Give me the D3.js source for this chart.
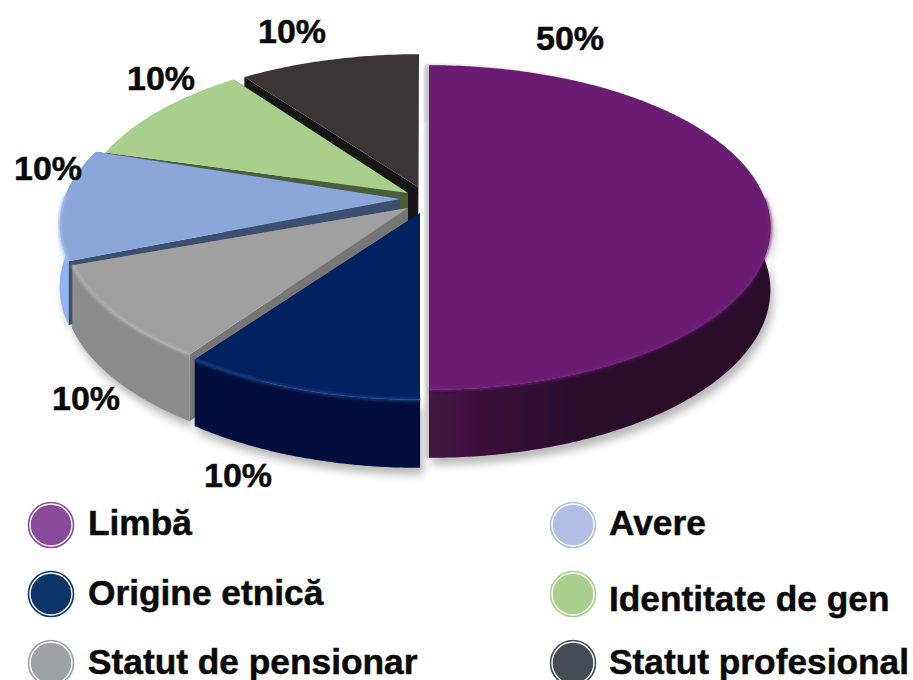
<!DOCTYPE html>
<html><head><meta charset="utf-8">
<script src="https://cdn.jsdelivr.net/npm/d3@7"></script>
<style>html,body{margin:0;padding:0;background:#fff}svg{display:block}text{font-family:"Liberation Sans",Arial,sans-serif;font-weight:bold;fill:#0a0a0a;stroke:#0a0a0a;stroke-width:.5px}</style>
</head><body><svg id="c" width="913" height="680"></svg>
<script>
const categories = ["Limbă","Origine etnică","Statut de pensionar","Avere","Identitate de gen","Statut profesional"];
const shares = [50,10,10,10,10,10];
const tickLabels = ["50%","10%","10%","10%","10%","10%"];

// styling, per slice
const topColors  = ["#6b1f72","#012060","#a0a0a0","#8ba7d9","#a8cf8c","#3b3535"];
const rimStart   = ["#431341","#001a50","#959595","#90b4f0","#a8cf8c","#3b3535"];
const rimEnd     = ["#2a0c2c","#000f3c","#8c8c8c","#90b4f0","#a8cf8c","#3b3535"];
const cutColors  = ["#3f1240","#011445","#767676","#3d4f70","#4a5e3a","#171717"];
const glowColors = ["#701f77","#21498f","#b8b8b8","#a4c2f5","#a8cf8c","#3b3535"];
const legendFill = ["#8a4a9a","#0e3569","#9ea1a5","#b0c0e4","#a8cf8c","#444c55"];
// layout: explode offsets of rim and apex, angular trim at each cut
const rimShift  = [[0,0],[-9,10],[-24,1],[-28,-3],[-9,-12],[-10,-11]];
const apexShift = [[0,0],[-9,0],[-21,-5],[-29,-14],[-21,-20],[-11,-26]];
const trimDeg   = [[0,0],[0,2],[0,0],[0,4],[0,0],[2.5,0]];
const labelPos  = [[570,50],[238,487],[86,410],[48,180],[161,90],[292,43]];
const legendPos = [[51,525,88,535],[51,594,88,605],[51,663,88,674],[573,525,609,535],[573,594,609,611],[573,663,609,674]];

const svg = d3.select("#c");
const defs = svg.append("defs");
defs.append("filter").attr("id","soft").attr("x","-10%").attr("y","-10%").attr("width","120%").attr("height","120%")
  .append("feGaussianBlur").attr("stdDeviation",0.7);
defs.append("filter").attr("id","shadow").attr("x","-10%").attr("y","-10%").attr("width","120%").attr("height","120%")
  .append("feGaussianBlur").attr("stdDeviation",4);
defs.append("filter").attr("id","glow").attr("x","-10%").attr("y","-10%").attr("width","120%").attr("height","120%")
  .append("feGaussianBlur").attr("stdDeviation",1.6);
categories.forEach((c,i)=>{
  const lg=defs.append("linearGradient").attr("id","wall"+i);
  lg.append("stop").attr("offset",i===0?"0%":"100%").attr("stop-color",rimEnd[i]===rimStart[i]?rimStart[i]:(i===0?rimStart[i]:rimEnd[i]));
  lg.append("stop").attr("offset",i===0?"45%":"0%").attr("stop-color",i===0?rimEnd[i]:rimStart[i]);
});

// perspective disc projection
const cx=429, cy=213, R=340, S=161, k=0.0893, wallH=62;
const project = a => {
  const u=Math.sin(a), v=-Math.cos(a), w=1-k*v;
  return {x:cx+R*u/w, y:cy+S*v/w, h:wallH/w, v};
};
const pie = d3.pie().sort(null).value(d=>d).startAngle(0).endAngle(2*Math.PI);
const rad = d3.scaleLinear().domain([0,360]).range([0,2*Math.PI]);
const arcs = pie(shares);
const lineGen = d3.line().x(d=>d.x).y(d=>d.y).curve(d3.curveLinear);
const wallGen = d3.area().x(d=>d.x).y0(d=>d.y).y1(d=>d.y+d.h);

const slices = arcs.map((d,i)=>{
  const a0=d.startAngle+rad(trimDeg[i][0]), a1=d.endAngle+rad(trimDeg[i][1]);
  const n=Math.ceil((a1-a0)/0.01);
  const rim=d3.range(n+1).map(j=>{
    const p=project(a0+(a1-a0)*j/n);
    return {x:p.x+rimShift[i][0],y:p.y+rimShift[i][1],h:p.h,v:p.v};
  });
  const apex={x:cx+apexShift[i][0],y:cy+apexShift[i][1],h:wallH};
  return {i,rim,apex,front:rim.filter(p=>p.v>-0.1)};
});
const face = s => lineGen([s.apex,...s.rim,s.apex])+"Z";
const cutWall = (a,b) => lineGen([a,b,{x:b.x,y:b.y+b.h},{x:a.x,y:a.y+a.h}])+"Z";

const g = svg.append("g");
// drop shadow
const sh = g.append("g").attr("filter","url(#shadow)").attr("opacity",0.28).attr("transform","translate(3,7)");
slices.forEach(s=>{ if(s.front.length) sh.append("path").attr("d",wallGen(s.front)).attr("fill","#000"); });
// light strip in the gap next to the half slice
g.append("path").attr("d",face(slices[0])).attr("transform","translate(-4,0)").attr("fill","#c9c9c9").attr("filter","url(#glow)");
g.append("path").attr("d",wallGen(slices[0].rim)).attr("transform","translate(-4,0)").attr("fill","#c9c9c9").attr("filter","url(#glow)");

const pieG = g.append("g").attr("filter","url(#soft)");
[5,4,3,2,1,0].forEach(i=>{
  const s=slices[i], last=s.rim[s.rim.length-1], first=s.rim[0];
  const sg=pieG.append("g");
  sg.append("path").attr("d",cutWall(s.apex,first)).attr("fill",cutColors[i]);
  sg.append("path").attr("d",cutWall(s.apex,last)).attr("fill",cutColors[i]);
  if(s.front.length) sg.append("path").attr("d",wallGen(s.front)).attr("fill","url(#wall"+i+")");
  sg.append("path").attr("d",face(s)).attr("fill",topColors[i]);
  if(s.front.length) sg.append("path").attr("d",lineGen(s.front)).attr("fill","none")
    .attr("stroke",glowColors[i]).attr("stroke-width",2.5).attr("filter","url(#glow)");
});

// percentage labels
svg.append("g").selectAll("text").data(tickLabels).join("text")
  .attr("x",(d,i)=>labelPos[i][0]).attr("y",(d,i)=>labelPos[i][1])
  .attr("text-anchor","middle").attr("font-size",34).text(d=>d);

// legend
const lg = svg.append("g").selectAll("g").data(categories).join("g");
lg.append("circle").attr("cx",(d,i)=>legendPos[i][0]).attr("cy",(d,i)=>legendPos[i][1]).attr("r",22.5)
  .attr("fill","#fff").attr("stroke",(d,i)=>legendFill[i]).attr("stroke-width",1.6);
lg.append("circle").attr("cx",(d,i)=>legendPos[i][0]).attr("cy",(d,i)=>legendPos[i][1]).attr("r",20.3)
  .attr("fill",(d,i)=>legendFill[i]);
lg.append("text").attr("x",(d,i)=>legendPos[i][2]).attr("y",(d,i)=>legendPos[i][3])
  .attr("font-size",35.3).text(d=>d);
</script></body></html>
